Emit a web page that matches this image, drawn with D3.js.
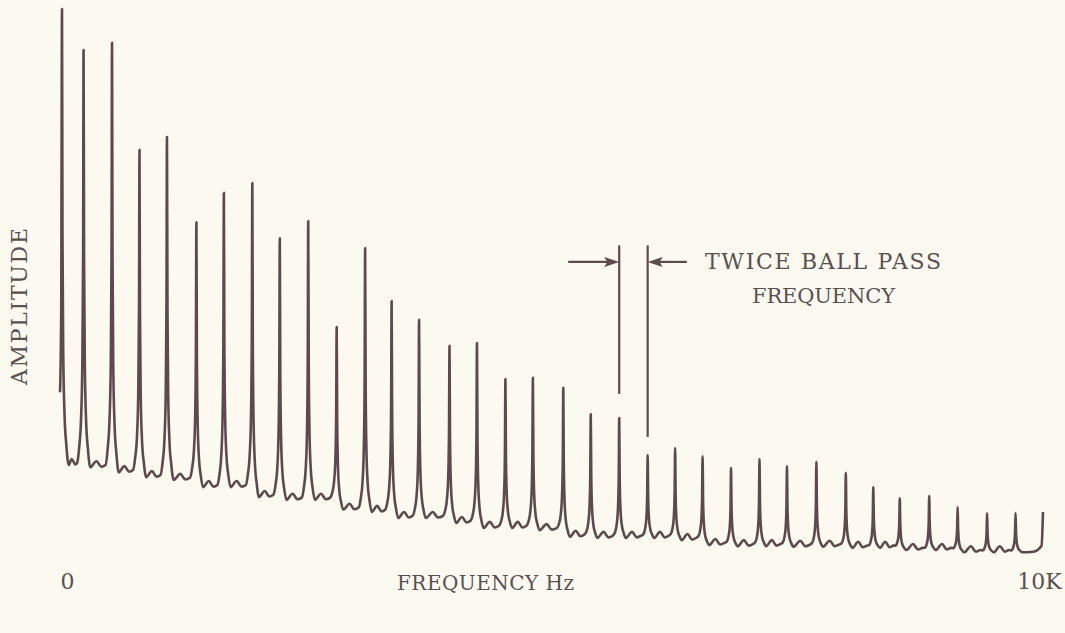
<!DOCTYPE html>
<html>
<head>
<meta charset="utf-8">
<script src="https://cdn.jsdelivr.net/npm/d3@7/dist/d3.min.js"></script>
<style>
  html, body { margin: 0; padding: 0; background: #fbf9f0; }
  svg { display: block; }
  text { font-family: "DejaVu Serif", "Liberation Serif", serif; fill: #5a5052; }
</style>
</head>
<body>
<div id="chart"></div>
<script>
// harmonic peaks (Hz, relative amplitude)
const peakFreq = [0, 220, 510, 790, 1070, 1370, 1650, 1940, 2220, 2510, 2800, 3090, 3360, 3640,
  3950, 4230, 4520, 4800, 5110, 5390, 5680, 5970, 6250, 6530, 6820, 7110, 7390, 7690, 7990,
  8270, 8540, 8840, 9130, 9430, 9720];
const peakAmp = [99.8, 92.4, 93.7, 74.3, 76.6, 61.2, 66.5, 68.3, 58.3, 61.4, 42.2, 56.5, 46.9, 43.5,
  38.8, 39.3, 32.8, 33.0, 31.2, 26.4, 25.7, 19.0, 20.3, 18.8, 16.7, 18.3, 17.0, 17.8, 15.8,
  13.2, 11.2, 11.6, 9.6, 8.5, 8.5];
// floor of the trace after each peak
const valleyAmp = [17.2, 16.8, 15.9, 15.0, 14.5, 13.2, 13.2, 11.4, 10.9, 10.9, 9.1, 8.7, 7.6, 7.6,
  6.7, 5.8, 5.8, 5.4, 4.2, 4.0, 4.0, 4.0, 3.6, 2.7, 2.5, 2.5, 2.4, 2.4, 2.2, 2.2, 1.8, 1.8,
  1.4, 1.4, 1.4];
const traceHead = [[-20, 30.4], [-8, 45]];
const traceTail = [[9900, 1.5], [9985, 2.6], [10000, 8.7]];

// the two peaks bracketed by the annotation
const markerPeaks = [20, 21];
const markerTop = 57;
const markerBottom = [30.1, 22.3];
const arrowAmp = 54;
const arrowTail = [520, 400];

const xTicks = [0, 10000];
const xTickLabels = ['0', '10K'];

const width = 1065, height = 633;

const svg = d3.select('#chart').append('svg')
  .attr('width', width)
  .attr('height', height);

const x = d3.scaleLinear().domain([0, 10000]).range([62, 1043]);
const y = d3.scaleLinear().domain([0, 100]).range([560, 8]);

// peak profile: offset in Hz and share of height above the floor
const flank = [[5, 0.5], [13, 0.24], [26, 0.11], [44, 0.045], [68, 0]];
const ripple = 1.1;

const pts = traceHead.slice();
peakFreq.forEach((f, i) => {
  const a = peakAmp[i];
  if (i > 0) {
    const v = valleyAmp[i - 1];
    flank.slice().reverse().forEach(([o, k]) => {
      if (k > 0) pts.push([f - o, v + (a - v) * k]);
    });
  }
  pts.push([f, a]);
  const v = valleyAmp[i];
  flank.forEach(([o, k]) => pts.push([f + o, v + (a - v) * k]));
  if (i < peakFreq.length - 1) {
    const gap = peakFreq[i + 1] - f;
    pts.push([f + gap * 0.45, v + ripple]);
    pts.push([f + gap * 0.62, v + 0.1]);
    pts.push([peakFreq[i + 1] - 66, v + 0.4]);
  }
});
traceTail.forEach(p => pts.push(p));

const line = d3.line()
  .x(d => x(d[0]))
  .y(d => y(d[1]))
  .curve(d3.curveMonotoneX);

const ink = '#5d4a4d';

svg.append('path')
  .datum(pts)
  .attr('d', line)
  .attr('fill', 'none')
  .attr('stroke', ink)
  .attr('stroke-width', 2.6)
  .attr('stroke-linejoin', 'round');

// annotation markers
markerPeaks.forEach((p, j) => {
  svg.append('line')
    .attr('x1', x(peakFreq[p])).attr('x2', x(peakFreq[p]))
    .attr('y1', y(markerTop)).attr('y2', y(markerBottom[j]))
    .attr('stroke', ink).attr('stroke-width', 2.2);
});

const ay = y(arrowAmp);
markerPeaks.forEach((p, j) => {
  const s = j === 0 ? -1 : 1;
  const tip = x(peakFreq[p]);
  const end = x(peakFreq[p] + s * arrowTail[j]);
  svg.append('line')
    .attr('x1', end).attr('x2', tip + s * 10)
    .attr('y1', ay).attr('y2', ay)
    .attr('stroke', ink).attr('stroke-width', 2.2);
  svg.append('path')
    .attr('d', `M${tip},${ay} L${tip + s * 15},${ay - 5} L${tip + s * 12},${ay} L${tip + s * 15},${ay + 5} Z`)
    .attr('fill', ink);
});

svg.append('text')
  .attr('x', 705).attr('y', 269)
  .attr('textLength', 236)
  .attr('lengthAdjust', 'spacing')
  .style('font-size', '22px')
  .text('TWICE BALL PASS');
svg.append('text')
  .attr('x', 752).attr('y', 303)
  .attr('textLength', 143)
  .attr('lengthAdjust', 'spacing')
  .style('font-size', '21px')
  .text('FREQUENCY');

// axis labels
const xAxis = svg.append('g')
  .attr('transform', 'translate(0,570)')
  .call(d3.axisBottom(x).tickValues(xTicks).tickSize(0)
    .tickFormat((d, i) => xTickLabels[i]));
xAxis.select('.domain').remove();
xAxis.selectAll('text')
  .style('font-size', '22px')
  .style('font-family', '"DejaVu Serif", serif')
  .attr('fill', '#5a5052')
  .attr('dx', (d, i) => i === 0 ? 5 : -4);

svg.append('text')
  .attr('x', 397).attr('y', 590)
  .attr('textLength', 177)
  .attr('lengthAdjust', 'spacing')
  .style('font-size', '20px')
  .text('FREQUENCY Hz');

svg.append('text')
  .attr('transform', 'translate(27,385) rotate(-90)')
  .attr('textLength', 157)
  .attr('lengthAdjust', 'spacing')
  .style('font-size', '22px')
  .text('AMPLITUDE');
</script>
</body>
</html>
